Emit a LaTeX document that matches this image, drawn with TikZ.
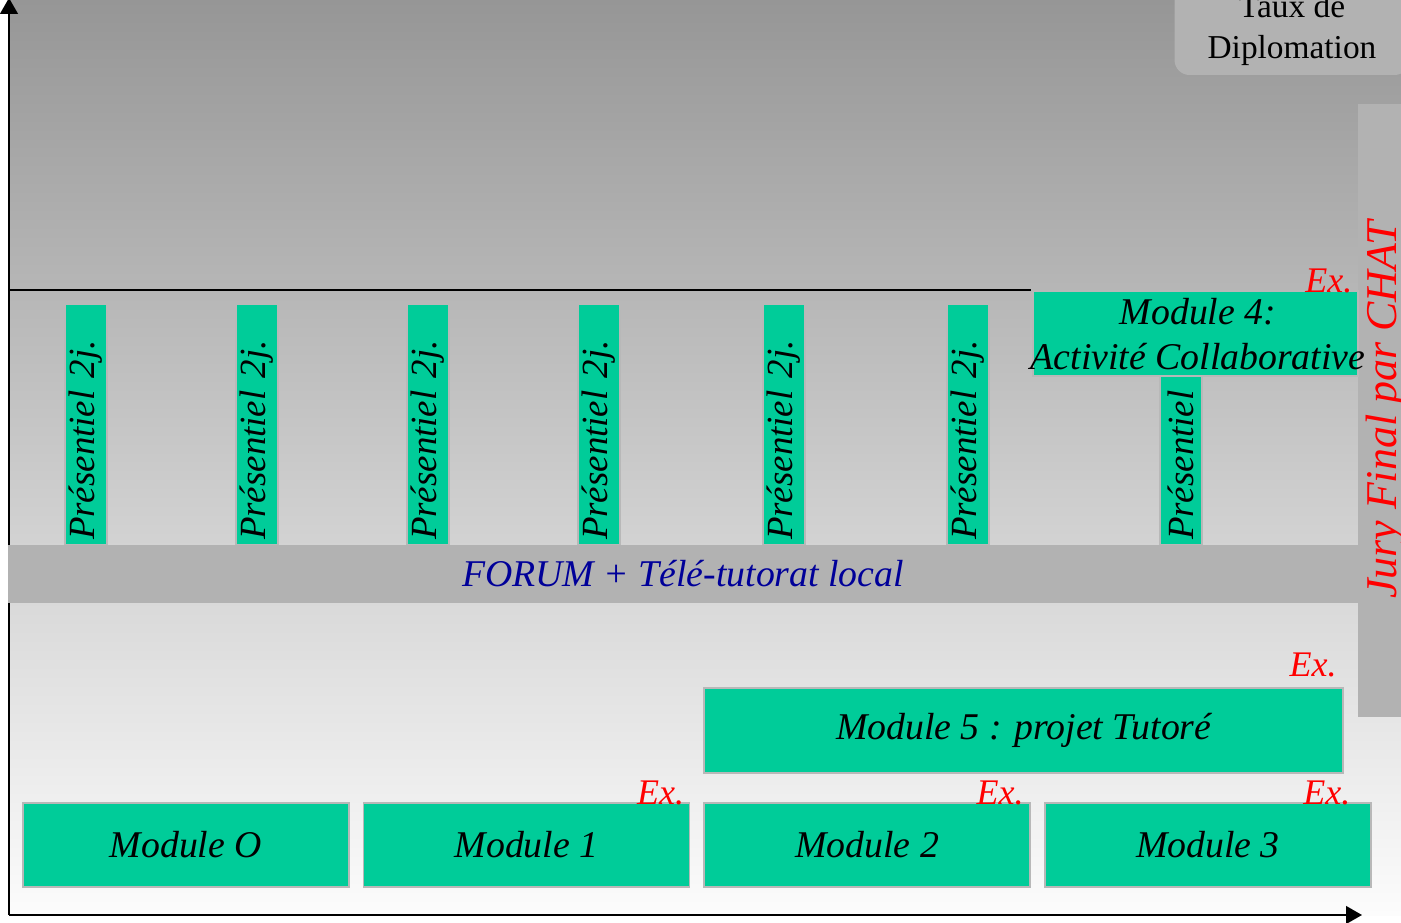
\documentclass[tikz,border=0pt]{standalone}
\usepackage{fontspec}
\setmainfont{Liberation Serif}
\usepackage{xcolor}
\usepackage{tikz}
\usetikzlibrary{positioning, arrows.meta}

\definecolor{ModGreen}{RGB}{0,204,153}
\definecolor{BandGray}{RGB}{178,178,178}
\definecolor{EdgeGray}{RGB}{184,184,184}
\definecolor{ForumBlue}{RGB}{0,0,153}
\definecolor{BgTop}{RGB}{150,150,150}
\definecolor{BgMid}{RGB}{214,214,214}
\definecolor{BgBottom}{RGB}{252,252,252}

\begin{document}
\begin{tikzpicture}[x=0.02cm, y=-0.02cm,
					ModBox/.style={rectangle, draw=EdgeGray, line width=1pt, fill=ModGreen, minimum width=6.52cm, minimum height=1.68cm, inner sep=0pt, font=\fontsize{21.5}{25}\selectfont\itshape},
					PresBox/.style={rectangle, draw=EdgeGray, line width=0.8pt, fill=ModGreen, rotate=90, minimum height=0.84cm, inner xsep=0.1cm, inner ysep=0pt, align=left, font=\fontsize{21}{25}\selectfont\itshape},
					ExLabel/.style={text=red, inner sep=0pt, font=\fontsize{20.5}{24}\selectfont\itshape},
					Axis/.style={line width=1.2pt, -{Triangle[length=9pt, width=10pt]}}]

				\useasboundingbox (0,0) rectangle (1401,923);

				% Background
				\shade[top color=BgTop, middle color=BgMid, bottom color=BgBottom] (9,0) rectangle (1401,915);

				% Axes
				\coordinate (Origin) at (9,915);
				\coordinate (YTip) at (9,-2);
				\coordinate (XTip) at (1362,915);
				\draw[Axis] (Origin) -- (YTip);
				\draw[Axis] (Origin) -- (XTip);
				\draw[line width=0.8pt] (9,290) -- (1031,290);

				% Taux de Diplomation
				\node[fill=BandGray, rounded corners=0.3cm, minimum width=4.7cm, minimum height=1.8cm, align=center, font=\fontsize{19}{23.5}\selectfont] (Taux) at (1292,30) {Taux de\\Diplomation};

				% Jury
				\node[fill=BandGray, minimum width=0.86cm, minimum height=12.26cm, inner sep=0pt, anchor=north west] (JuryBox) at (1358,104) {};
				\node[rotate=90, text=red, inner sep=0pt, font=\fontsize{25}{30}\selectfont\itshape] (Jury) at (1386,410) {Jury Final par CHAT};

				% Presentiel
				\node[PresBox, minimum width=4.82cm, text width=4.62cm] (P1) at (86,424.5) {Présentiel 2j.};
				\node[PresBox, minimum width=4.82cm, text width=4.62cm] (P2) at (257,424.5) {Présentiel 2j.};
				\node[PresBox, minimum width=4.82cm, text width=4.62cm] (P3) at (428,424.5) {Présentiel 2j.};
				\node[PresBox, minimum width=4.82cm, text width=4.62cm] (P4) at (599,424.5) {Présentiel 2j.};
				\node[PresBox, minimum width=4.82cm, text width=4.62cm] (P5) at (784,424.5) {Présentiel 2j.};
				\node[PresBox, minimum width=4.82cm, text width=4.62cm] (P6) at (968,424.5) {Présentiel 2j.};
				\node[PresBox, minimum width=3.38cm, text width=3.18cm] (P7) at (1181,460.5) {Présentiel};

				% Forum
				\node[fill=BandGray, minimum width=27cm, minimum height=1.16cm, inner sep=0pt, text=ForumBlue, font=\fontsize{21.5}{25}\selectfont\itshape] (Forum) at (683,574) {FORUM + Télé-tutorat local};

				% Modules
				\node[ModBox, anchor=north west] (M0) at (22,802) {Module O};
				\node[ModBox] (M1) [right=0.26cm of M0] {Module 1};
				\node[ModBox] (M2) [right=0.26cm of M1] {Module 2};
				\node[ModBox] (M3) [right=0.26cm of M2] {Module 3};
				\node[ModBox, minimum width=12.78cm, minimum height=1.7cm] (M5) [above right=0.56cm and 0cm of M2.north west] {Module 5 : projet Tutoré};
				\node[ModBox, minimum width=6.5cm, minimum height=1.7cm, anchor=north west] (M4) at (1032,290) {};
				\node[align=center, inner sep=0pt, font=\fontsize{21.5}{25.5}\selectfont\itshape] (M4Text) at (1198,334) {Module 4:\\Activité Collaborative};

				% Ex.
				\node[ExLabel, anchor=base east] (Ex1) at ([xshift=-3.4pt, yshift=-1.5pt]M1.north east) {Ex.};
				\node[ExLabel, anchor=base east] (Ex2) at ([xshift=-4pt, yshift=-1.5pt]M2.north east) {Ex.};
				\node[ExLabel, anchor=base east] (Ex3) at ([xshift=-12pt, yshift=-1.5pt]M3.north east) {Ex.};
				\node[ExLabel, anchor=base east] (Ex5) at ([xshift=-4pt, yshift=6pt]M5.north east) {Ex.};
				\node[ExLabel, anchor=base east] (Ex4) at ([xshift=-3.4pt, yshift=-1.5pt]M4.north east) {Ex.};
			\end{tikzpicture}
\end{document}
